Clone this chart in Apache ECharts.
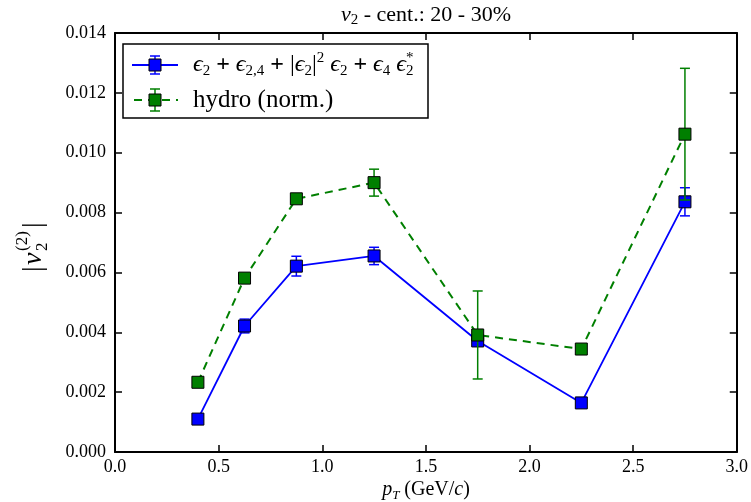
<!DOCTYPE html>
<html><head><meta charset="utf-8">
<script src="https://cdn.jsdelivr.net/npm/echarts@6/dist/echarts.min.js"></script>
<style>html,body{margin:0;padding:0;background:#fff}#c{width:751px;height:502px}</style>
</head><body><div id="c"></div>
<script>
const pT = [0.4, 0.625, 0.875, 1.25, 1.75, 2.25, 2.75];
const modelV = [0.00110, 0.00421, 0.00621, 0.00655, 0.00371, 0.00164, 0.00836];
const modelErr = [0.00005, 0.00023, 0.00033, 0.00029, 0.00005, 0.00005, 0.00047];
const hydroV = [0.00233, 0.00581, 0.00846, 0.00900, 0.00391, 0.00344, 0.01062];
const hydroErr = [0.00005, 0.00005, 0.00005, 0.00045, 0.00147, 0.00005, 0.00220];
const xTicks = [0, 0.5, 1.0, 1.5, 2.0, 2.5, 3.0];
const yTicks = [0, 0.002, 0.004, 0.006, 0.008, 0.010, 0.012, 0.014];

const FONT = '"Liberation Serif","DejaVu Serif",serif';
const BLUE = '#0000ff', GREEN = '#007f00';

function errData(v, e) { return pT.map((x, i) => [x, v[i] - e[i], v[i] + e[i]]); }
function errRender(color) {
  return function (params, api) {
    const x = api.value(0);
    const lo = api.coord([x, api.value(1)]);
    const hi = api.coord([x, api.value(2)]);
    const w = 5;
    const st = { stroke: color, lineWidth: 1.5 };
    return { type: 'group', children: [
      { type: 'line', shape: { x1: lo[0], y1: lo[1], x2: hi[0], y2: hi[1] }, style: st },
      { type: 'line', shape: { x1: lo[0] - w, y1: lo[1], x2: lo[0] + w, y2: lo[1] }, style: st },
      { type: 'line', shape: { x1: hi[0] - w, y1: hi[1], x2: hi[0] + w, y2: hi[1] }, style: st }
    ]};
  };
}
const axisCommon = {
  axisLine: { show: true, onZero: false, lineStyle: { color: '#000', width: 2 } },
  axisTick: { show: true, inside: true, length: 7, lineStyle: { color: '#000', width: 1.5 } },
  splitLine: { show: false }
};
const chart = echarts.init(document.getElementById('c'), null, { renderer: 'canvas' });
const lx = 132, ly1 = 65, ly2 = 100;
const option = {
  animation: false,
  backgroundColor: '#fff',
  grid: { left: 115, right: 14, top: 33, bottom: 50 },
  xAxis: [
    Object.assign({ type: 'value', min: 0, max: 3, interval: 0.5, position: 'bottom',
      axisLabel: { color: '#000', fontFamily: FONT, fontSize: 18, margin: 6,
        formatter: v => v.toFixed(1) } }, axisCommon),
    Object.assign({ type: 'value', min: 0, max: 3, interval: 0.5, position: 'top',
      axisLabel: { show: false } }, axisCommon)
  ],
  yAxis: [
    Object.assign({ type: 'value', min: 0, max: 0.014, interval: 0.002, position: 'left',
      axisLabel: { color: '#000', fontFamily: FONT, fontSize: 18, margin: 9,
        formatter: v => v.toFixed(3) } }, axisCommon),
    Object.assign({ type: 'value', min: 0, max: 0.014, interval: 0.002, position: 'right',
      axisLabel: { show: false } }, axisCommon)
  ],
  series: [
    { type: 'line', name: 'model', data: pT.map((x, i) => [x, modelV[i]]),
      lineStyle: { color: BLUE, width: 1.8 }, symbol: 'none', z: 2 },
    { type: 'custom', name: 'modelErr', data: errData(modelV, modelErr),
      renderItem: errRender(BLUE), z: 3 },
    { type: 'scatter', name: 'modelPts', data: pT.map((x, i) => [x, modelV[i]]),
      symbol: 'rect', symbolSize: 12, itemStyle: { color: BLUE, borderColor: '#000', borderWidth: 1, opacity: 1 }, z: 4 },
    { type: 'line', name: 'hydro', data: pT.map((x, i) => [x, hydroV[i]]),
      lineStyle: { color: GREEN, width: 2, type: [8, 6] }, symbol: 'none', z: 5 },
    { type: 'custom', name: 'hydroErr', data: errData(hydroV, hydroErr),
      renderItem: errRender(GREEN), z: 6 },
    { type: 'scatter', name: 'hydroPts', data: pT.map((x, i) => [x, hydroV[i]]),
      symbol: 'rect', symbolSize: 12, itemStyle: { color: GREEN, borderColor: '#000', borderWidth: 1, opacity: 1 }, z: 7 }
  ],
  graphic: [
    // title
    { type: 'text', x: 426, y: 15, style: {
      text: '{v|v}{s|2}{n| - cent.: 20 - 30%}', fill: '#000', textAlign: 'center', textVerticalAlign: 'middle',
      rich: {
        v: { fontFamily: FONT, fontSize: 22, fontStyle: 'italic', lineHeight: 26, verticalAlign: 'middle' },
        s: { fontFamily: FONT, fontSize: 15, lineHeight: 14, verticalAlign: 'bottom' },
        n: { fontFamily: FONT, fontSize: 22, lineHeight: 26, verticalAlign: 'middle' }
      } } },
    // x label
    { type: 'text', x: 426, y: 490, style: {
      text: '{v|p}{s|T}{n| (GeV/}{v|c}{n|)}', fill: '#000', textAlign: 'center', textVerticalAlign: 'middle',
      rich: {
        v: { fontFamily: FONT, fontSize: 20, fontStyle: 'italic', lineHeight: 24, verticalAlign: 'middle' },
        s: { fontFamily: FONT, fontSize: 13, fontStyle: 'italic', lineHeight: 12, verticalAlign: 'bottom' },
        n: { fontFamily: FONT, fontSize: 20, lineHeight: 24, verticalAlign: 'middle' }
      } } },
    // y label (rotated)
    { type: 'group', x: 34, y: 272, rotation: Math.PI / 2, children: [
      { type: 'text', x: 0, y: 0, style: { text: '|', font: '28px ' + FONT, fill: '#000', textVerticalAlign: 'middle' } },
      { type: 'text', x: 7, y: 0, style: { text: 'v', font: 'italic 28px ' + FONT, fill: '#000', textVerticalAlign: 'middle' } },
      { type: 'text', x: 21, y: -11, style: { text: '(2)', font: '17px ' + FONT, fill: '#000', textVerticalAlign: 'middle' } },
      { type: 'text', x: 21, y: 9, style: { text: '2', font: '17px ' + FONT, fill: '#000', textVerticalAlign: 'middle' } },
      { type: 'text', x: 44, y: 0, style: { text: '|', font: '28px ' + FONT, fill: '#000', textVerticalAlign: 'middle' } }
    ] },
    // legend box
    { type: 'rect', shape: { x: 123, y: 44, width: 305, height: 74 },
      style: { fill: '#fff', stroke: '#000', lineWidth: 1.5 }, z: 100 },
    // legend row 1
    { type: 'line', shape: { x1: lx, y1: ly1, x2: lx + 46, y2: ly1 }, style: { stroke: BLUE, lineWidth: 1.8 }, z: 101 },
    { type: 'line', shape: { x1: lx + 23, y1: ly1 - 9, x2: lx + 23, y2: ly1 + 9 }, style: { stroke: BLUE, lineWidth: 1.5 }, z: 101 },
    { type: 'line', shape: { x1: lx + 18, y1: ly1 - 9, x2: lx + 28, y2: ly1 - 9 }, style: { stroke: BLUE, lineWidth: 1.5 }, z: 101 },
    { type: 'line', shape: { x1: lx + 18, y1: ly1 + 9, x2: lx + 28, y2: ly1 + 9 }, style: { stroke: BLUE, lineWidth: 1.5 }, z: 101 },
    { type: 'rect', shape: { x: lx + 17, y: ly1 - 6, width: 12, height: 12 }, style: { fill: BLUE, stroke: '#000', lineWidth: 1 }, z: 102 },
    { type: 'text', x: 193, y: ly1, z: 102, style: {
      text: '{e|ϵ}{s|2}{p| + }{e|ϵ}{s|2,4}{p| + }{n||}{e|ϵ}{s|2}{n||}{u|2}{e| ϵ}{s|2}{p| + }{e|ϵ}{s|4}{e| ϵ}{su|*}{s|2}',
      textVerticalAlign: 'middle', fill: '#000',
      rich: {
        e: { fontFamily: FONT, fontSize: 24, fontStyle: 'italic', lineHeight: 28, verticalAlign: 'middle' },
        n: { fontFamily: FONT, fontSize: 24, lineHeight: 28, verticalAlign: 'middle' },
        p: { fontFamily: FONT, fontSize: 24, fontWeight: 'bold', lineHeight: 28, verticalAlign: 'middle' },
        s: { fontFamily: FONT, fontSize: 15, lineHeight: 14, verticalAlign: 'bottom' },
        u: { fontFamily: FONT, fontSize: 15, lineHeight: 14, verticalAlign: 'top' },
        su: { fontFamily: FONT, fontSize: 15, lineHeight: 14, verticalAlign: 'top', width: 0 }
      } } },
    // legend row 2
    { type: 'line', shape: { x1: lx, y1: ly2, x2: lx + 46, y2: ly2 }, style: { stroke: GREEN, lineWidth: 2, lineDash: [8, 6], lineDashOffset: -2 }, z: 101 },
    { type: 'line', shape: { x1: lx + 23, y1: ly2 - 11, x2: lx + 23, y2: ly2 + 11 }, style: { stroke: GREEN, lineWidth: 1.5 }, z: 101 },
    { type: 'line', shape: { x1: lx + 18, y1: ly2 - 11, x2: lx + 28, y2: ly2 - 11 }, style: { stroke: GREEN, lineWidth: 1.5 }, z: 101 },
    { type: 'line', shape: { x1: lx + 18, y1: ly2 + 11, x2: lx + 28, y2: ly2 + 11 }, style: { stroke: GREEN, lineWidth: 1.5 }, z: 101 },
    { type: 'rect', shape: { x: lx + 17, y: ly2 - 6, width: 12, height: 12 }, style: { fill: GREEN, stroke: '#000', lineWidth: 1 }, z: 102 },
    { type: 'text', x: 193, y: ly2, z: 102, style: {
      text: 'hydro (norm.)', font: '25px ' + FONT, fill: '#000', textVerticalAlign: 'middle' } }
  ]
};
chart.setOption(option);
</script>
</body></html>
